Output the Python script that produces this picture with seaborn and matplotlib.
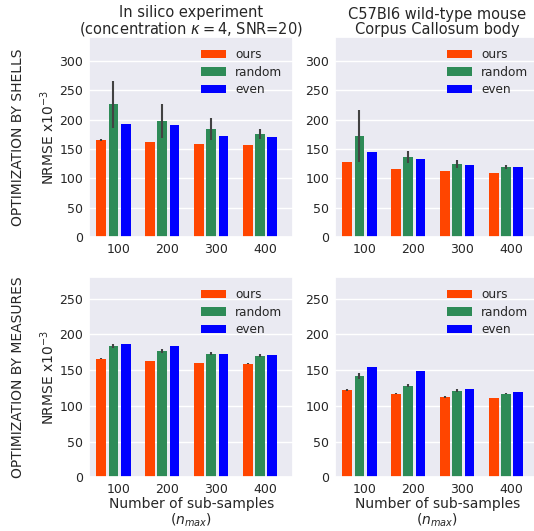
import numpy as np
import pandas as pd
import matplotlib
matplotlib.use("Agg")
import matplotlib.pyplot as plt
import seaborn as sns

# ---- data ----
n_samples = ["100", "200", "300", "400"]
methods = ["ours", "random", "even"]
colors = ["#FF4500", "#2E8B57", "#0000FF"]

silico_shells_ours = [165.5, 162.0, 158.5, 157.0]
silico_shells_ours_err = [1.0, 0.5, 0.5, 0.5]
silico_shells_random = [226.5, 197.5, 184.0, 175.5]
silico_shells_random_err = [40.0, 29.5, 19.0, 9.0]
silico_shells_even = [192.5, 191.0, 172.0, 170.5]
silico_shells_even_err = [0, 0, 0, 0]

mouse_shells_ours = [128.0, 116.0, 112.5, 109.5]
mouse_shells_ours_err = [0.5, 0.3, 0.3, 0.5]
mouse_shells_random = [172.0, 136.5, 124.5, 119.5]
mouse_shells_random_err = [44.0, 9.5, 6.5, 3.0]
mouse_shells_even = [145.0, 133.0, 123.0, 119.5]
mouse_shells_even_err = [0, 0, 0, 0]

silico_measures_ours = [166.0, 163.0, 160.0, 159.0]
silico_measures_ours_err = [0.8, 0.5, 0.5, 0.5]
silico_measures_random = [184.0, 177.0, 173.0, 170.0]
silico_measures_random_err = [3.0, 3.0, 2.0, 2.0]
silico_measures_even = [187.0, 184.0, 173.0, 171.5]
silico_measures_even_err = [0, 0, 0, 0]

mouse_measures_ours = [122.5, 117.0, 112.5, 111.0]
mouse_measures_ours_err = [1.0, 0.5, 1.0, 0.5]
mouse_measures_random = [142.0, 128.0, 121.0, 117.0]
mouse_measures_random_err = [4.0, 2.0, 2.0, 1.0]
mouse_measures_even = [155.0, 149.0, 124.0, 119.5]
mouse_measures_even_err = [0, 0, 0, 0]

titles = ["In silico experiment\n(concentration $\\kappa=4$, SNR=20)",
          "C57Bl6 wild-type mouse\nCorpus Callosum body"]
row_labels = ["OPTIMIZATION BY SHELLS", "OPTIMIZATION BY MEASURES"]
ylabel = "NRMSE x10$^{-3}$"
xlabel = "Number of sub-samples\n($n_{max}$)"


def make_df(ours, ours_err, random, random_err, even, even_err):
    rows = []
    for m, vals, errs in [("ours", ours, ours_err), ("random", random, random_err),
                          ("even", even, even_err)]:
        for n, v, e in zip(n_samples, vals, errs):
            rows.append({"n": n, "method": m, "nrmse": v - e})
            rows.append({"n": n, "method": m, "nrmse": v + e})
    return pd.DataFrame(rows)


panels = [
    [make_df(silico_shells_ours, silico_shells_ours_err, silico_shells_random,
             silico_shells_random_err, silico_shells_even, silico_shells_even_err),
     make_df(mouse_shells_ours, mouse_shells_ours_err, mouse_shells_random,
             mouse_shells_random_err, mouse_shells_even, mouse_shells_even_err)],
    [make_df(silico_measures_ours, silico_measures_ours_err, silico_measures_random,
             silico_measures_random_err, silico_measures_even, silico_measures_even_err),
     make_df(mouse_measures_ours, mouse_measures_ours_err, mouse_measures_random,
             mouse_measures_random_err, mouse_measures_even, mouse_measures_even_err)],
]

sns.set_theme(style="darkgrid")
plt.rcParams["font.family"] = ["DejaVu Sans"]
plt.rcParams["text.color"] = ".15"
plt.rcParams["axes.labelcolor"] = ".15"
plt.rcParams["xtick.color"] = ".15"
plt.rcParams["ytick.color"] = ".15"

fig = plt.figure(figsize=(5.34, 5.31), dpi=100)
W, H = 534.0, 531.0
ax_w, ax_h = 204.3, 200.0
lefts = [89.0, 335.0]
bottoms_px = [237.3, 477.3]
yticks = [np.arange(0, 301, 50), np.arange(0, 251, 50)]
ylims = [(0, 340), (0, 280)]

for r in range(2):
    for c in range(2):
        ax = fig.add_axes([lefts[c] / W, (H - bottoms_px[r]) / H, ax_w / W, ax_h / H])
        sns.barplot(data=panels[r][c], x="n", y="nrmse", hue="method",
                    order=n_samples, hue_order=methods, palette=colors,
                    saturation=1, width=0.75, gap=0.2, linewidth=0,
                    errorbar=("pi", 100),
                    err_kws={"color": "0.26", "linewidth": 1.5,
                             "solid_capstyle": "butt"},
                    ax=ax)
        ax.set_xlim(-0.5, 3.68)
        ax.set_xticks([i + 0.1 for i in range(4)])
        ax.set_xticklabels(n_samples)
        ax.set_ylim(*ylims[r])
        ax.set_yticks(yticks[r])
        ax.tick_params(axis="both", labelsize=9, pad=4, length=0)
        ax.legend(loc="upper right", frameon=False, fontsize=8.7, labelspacing=0.38)
        if r == 0:
            ax.set_title(titles[c], fontsize=10.5, pad=2.5, linespacing=1.0)
        if r == 1:
            ax.set_xlabel(xlabel, fontsize=10, labelpad=1, linespacing=1.05)
        else:
            ax.set_xlabel("")
        if c == 0:
            ax.set_ylabel(ylabel, fontsize=10, labelpad=1.5)
            ax.text((18 - lefts[c]) / ax_w, 0.5, row_labels[r], transform=ax.transAxes,
                    rotation=90, ha="center", va="center", fontsize=10, color=".15")
        else:
            ax.set_ylabel("")

fig.savefig("out.png", dpi=100)
